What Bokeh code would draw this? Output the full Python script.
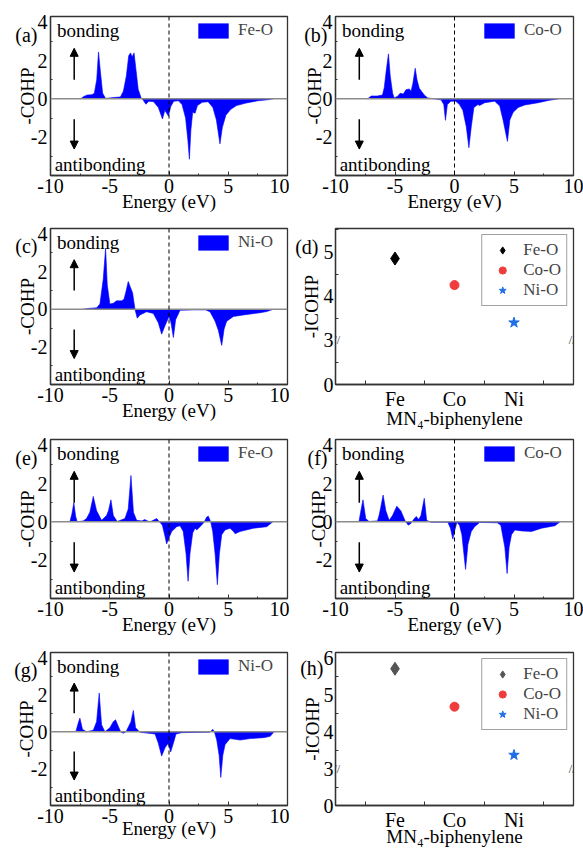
from bokeh.plotting import figure
from bokeh.layouts import column, row
from bokeh.models import (FixedTicker, CustomJSTickFormatter, Label, Arrow,
                          NormalHead, Span)
from bokeh.embed import file_html
from bokeh.resources import INLINE

FONT = "'Liberation Serif', 'Times New Roman', Times, serif"
BLUE = "#0000ff"
EDGE = "#333333"
NB = "\u00a0"

# ---------------- data ----------------
energy_a = [-7.45, -7.2, -6.9, -6.5, -6.3, -6.1, -5.95, -5.8, -5.6, -5.35, -5.0, -4.5, -4.1, -3.85,
            -3.6, -3.4, -3.25, -3.1, -2.95, -2.8, -2.6, -2.35, -2.2, -1.95, -1.7, -1.3, -0.9, -0.55,
            -0.35, -0.05, 0.15, 0.4, 0.8, 1.1, 1.4, 1.6, 1.72, 1.85, 2.0, 2.2, 2.4, 2.8, 3.3, 3.7,
            4.0, 4.3, 4.5, 4.8, 5.2, 5.7, 6.5, 7.5, 8.3, 8.8]
cohp_a = [0, 0.12, 0.2, 0.22, 0.3, 1.0, 2.45, 1.5, 0.3, 0.02, 0.05, 0.08, 0.1, 0.4,
          1.2, 2.25, 2.4, 2.2, 2.4, 1.6, 0.5, 0.05, -0.05, -0.28, -0.12, -0.15, -0.45, -1.05,
          -0.6, -0.9, -0.4, -0.12, -0.1, -0.3, -1.0, -2.2, -3.15, -1.6, -0.7, -0.75, -0.35, -0.18,
          -0.15, -0.45, -1.1, -2.35, -1.5, -0.85, -0.55, -0.35, -0.22, -0.1, -0.05, 0]

energy_b = [-7.3, -7.0, -6.5, -6.05, -5.9, -5.75, -5.55, -5.4, -5.2, -5.07, -4.8, -4.56, -4.3, -4.08,
            -3.8, -3.65, -3.5, -3.3, -3.15, -2.96, -2.54, -2.25, -1.7, -1.13, -0.9, -0.76, -0.6, -0.3,
            0.1, 0.42, 0.7, 0.99, 1.21, 1.41, 1.63, 1.97, 2.1, 2.54, 3.38, 3.8, 4.08, 4.45, 4.65,
            4.93, 5.35, 5.9, 7.04, 7.9, 8.75]
cohp_b = [0, 0.15, 0.15, 0.2, 0.6, 1.4, 2.35, 1.2, 0.3, 0.05, 0.13, 0.3, 0.25, 0.48,
          0.52, 0.4, 0.8, 1.6, 1.0, 0.55, 0.2, 0.05, 0, -0.05, -0.3, -1.12, -0.3, -0.12,
          -0.12, -0.3, -0.6, -1.45, -2.55, -1.45, -0.45, -0.3, -0.35, -0.2, -0.12, -0.37, -1.1, -2.22,
          -1.1, -0.7, -0.45, -0.32, -0.2, -0.08, 0]

energy_c = [-7.25, -6.8, -6.1, -5.83, -5.55, -5.35, -5.21, -4.99, -4.7, -4.42, -4.0, -3.8, -3.63,
            -3.44, -3.24, -3.07, -2.87, -2.68, -2.45, -1.89, -1.32, -0.9, -0.62, -0.34, 0.0, 0.17,
            0.37, 0.56, 0.93, 2.0, 3.1, 3.46, 3.89, 4.17, 4.45, 4.65, 4.87, 5.44, 6.28, 7.69, 8.25, 8.8]
cohp_c = [0, 0.05, 0.08, 0.28, 1.6, 3.25, 1.3, 0.28, 0.32, 0.45, 0.45, 0.53, 0.95,
          1.48, 1.15, 0.87, 0, -0.47, -0.3, -0.13, -0.22, -0.72, -1.32, -0.88, -0.38, -0.72,
          -1.5, -0.55, -0.05, -0.03, -0.03, -0.13, -0.63, -1.13, -1.92, -1.05, -0.63, -0.38, -0.3,
          -0.18, -0.12, 0]

energy_e = [-8.37, -8.2, -8.03, -7.88, -7.75, -7.24, -6.96, -6.68, -6.39, -6.11, -5.69, -5.27, -5.1,
            -4.9, -4.7, -4.37, -3.72, -3.44, -3.21, -3.0, -2.73, -2.3, -2.05, -1.8, -1.6, -1.04, -0.8,
            -0.56, -0.34, -0.2, 0.0, 0.23, 0.65, 0.93, 1.2, 1.44, 1.61, 1.77, 2.0, 2.2, 2.34, 2.62,
            2.96, 3.18, 3.32, 3.52, 3.69, 3.89, 4.08, 4.25, 4.45, 4.73, 5.15, 5.44, 5.58, 6.0, 7.13,
            8.25, 8.76]
cohp_e = [0, 0.4, 1.0, 0.3, 0, 0.05, 0.17, 0.5, 1.33, 0.58, 0.08, 0.33, 0.6,
          1.15, 0.33, 0.02, 0.17, 0.67, 2.42, 0.5, 0.08, 0.05, 0.12, 0.05, 0, 0.17, 0,
          -0.17, -0.75, -1.15, -0.83, -0.5, -0.25, -0.2, -0.5, -1.67, -3.1, -1.67, -0.58, -0.33,
          -0.42, -0.25, -0.02, 0.25, 0.3, 0, -0.5, -1.67, -3.28, -1.67, -0.67, -0.42, -0.33, -0.5,
          -0.62, -0.5, -0.33, -0.25, 0]

energy_f = [-8.03, -7.89, -7.69, -7.46, -7.18, -6.48, -6.34, -6.2, -6.0, -5.77, -5.49, -5.21, -4.85,
            -4.51, -4.17, -3.89, -3.66, -3.38, -3.21, -3.01, -2.82, -2.54, -2.34, -1.97, -0.56, -0.34,
            -0.14, 0.0, 0.2, 0.42, 0.62, 0.79, 0.93, 1.13, 1.41, 1.69, 2.11, 3.6, 3.89, 4.23, 4.42,
            4.59, 4.79, 5.07, 5.63, 6.48, 7.32, 8.45, 8.87]
cohp_f = [0, 0.5, 1.15, 0.17, 0.02, 0.05, 0.33, 0.75, 1.4, 0.58, 0.08, 0.33, 0.82,
          0.58, 0.08, -0.17, -0.08, 0.17, 0.28, 0.12, 0.33, 1.23, 0.08, -0.02, -0.02, -0.33,
          -0.9, -0.5, -0.02, -0.17, -0.67, -1.67, -2.48, -1.17, -0.5, -0.25, -0.03, -0.05, -0.17,
          -1.33, -2.7, -1.33, -0.67, -0.42, -0.47, -0.5, -0.33, -0.2, 0]

energy_g = [-7.86, -7.66, -7.52, -7.3, -6.96, -6.39, -6.11, -5.89, -5.69, -5.41, -4.99, -4.7, -4.51,
            -4.28, -4.08, -3.86, -3.63, -3.21, -3.01, -2.82, -2.45, -1.89, -1.18, -0.9, -0.62, -0.34,
            -0.06, 0.14, 0.37, 0.59, 1.07, 3.46, 3.69, 3.83, 4.03, 4.23, 4.37, 4.54, 4.73, 5.15,
            6.0, 6.85, 7.97, 8.54, 8.87]
cohp_g = [0, 0.47, 0.74, 0.13, 0, 0.08, 0.55, 2.1, 0.38, 0, 0.22, 0.55, 0.65,
          0.3, 0, -0.08, 0, 0.55, 1.16, 0.22, -0.03, -0.07, -0.12, -0.62, -1.32, -0.87,
          -0.62, -1.1, -0.62, -0.12, -0.05, -0.02, 0.13, 0, -0.45, -1.28, -2.48, -1.28, -0.7, -0.37,
          -0.45, -0.37, -0.32, -0.25, 0]

energy_ticks = [-10, -5, 0, 5, 10]
energy_minor = [-7.5, -2.5, 2.5, 7.5]
cohp_ticks = [-2, 0, 2, 4]
cohp_minor = [-3, -1, 1, 3]

metals = ["Fe", "Co", "Ni"]
metal_pos = [1, 2, 3]
bond_names = ["Fe-O", "Co-O", "Ni-O"]
icohp_d = [4.85, 4.25, 3.40]
icohp_h = [5.71, 4.68, 3.37]
icohp_ticks_d = [0, 3, 4, 5]
icohp_ticks_h = [0, 3, 4, 5, 6]
icohp_minor = [1.5, 3.5, 4.5, 5.5]

LEFT_W, RIGHT_W = 289, 294
# per row: figure height, top border, bottom border, x-axis label standoff
ROWS = [(220, 16, 45, -5), (211, 8, 44, -5), (213, 8, 46, -5), (205, 8, 42, -8)]


def brk(v):
    """broken y axis: 0..3 compressed into one unit, above 3 linear"""
    return v / 3.0 if v <= 3 else v - 2.0


def make_fig(left, r, **kw):
    h, bt, bb, xs = ROWS[r]
    p = figure(width=LEFT_W if left else RIGHT_W, height=h,
               output_backend="svg", toolbar_location=None,
               min_border_left=50 if left else 46,
               min_border_right=2 if left else 10,
               min_border_top=bt, min_border_bottom=bb, **kw)
    p.grid.visible = False
    p.outline_line_color = EDGE
    p.outline_line_width = 1.3
    p.background_fill_color = "white"
    p.border_fill_color = "white"
    for ax in p.axis:
        ax.major_label_text_font = FONT
        ax.major_label_text_font_size = "20px"
        ax.major_label_text_color = "black"
        ax.axis_label_text_font = FONT
        ax.axis_label_text_font_size = "19px"
        ax.axis_label_text_font_style = "normal"
        ax.axis_label_text_color = "black"
        ax.axis_line_color = EDGE
        ax.axis_line_width = 1.3
        ax.major_tick_in = 4
        ax.major_tick_out = 0
        ax.minor_tick_in = 2
        ax.minor_tick_out = 0
        ax.major_tick_line_color = EDGE
        ax.minor_tick_line_color = EDGE
    p.xaxis.major_label_standoff = 3
    p.xaxis.axis_label_standoff = xs
    p.yaxis.major_tick_in = 0
    return p


def cohp_panel(tag, energy, cohp, name, left, r):
    p = make_fig(left, r, x_range=(-10, 10), y_range=(-4.0, 4.3))
    p.varea(x=energy, y1=0, y2=cohp, fill_color=BLUE, legend_label=name)
    p.line(energy, cohp, line_color=BLUE, line_width=0.6)
    p.add_layout(Span(location=0, dimension="width", line_color="#8c8c8c", line_width=1.5))
    p.add_layout(Span(location=0, dimension="height", line_color="black",
                      line_dash="4 3", line_width=1))
    p.add_layout(Arrow(end=NormalHead(size=8, fill_color="black", line_color="black"),
                       x_start=-8, y_start=1.0, x_end=-8, y_end=2.64,
                       line_width=1.5, line_color="black"))
    p.add_layout(Arrow(end=NormalHead(size=8, fill_color="black", line_color="black"),
                       x_start=-8, y_start=-1.07, x_end=-8, y_end=-2.62,
                       line_width=1.5, line_color="black"))
    p.add_layout(Label(x=-9.45, y=3.56, text="bonding", text_baseline="middle",
                       text_font=FONT, text_font_size="19px", text_color="black"))
    p.add_layout(Label(x=-9.65, y=-3.45, text="antibonding", text_baseline="middle",
                       text_font=FONT, text_font_size="19px", text_color="black"))
    p.xaxis.axis_label = "Energy (eV)"
    p.yaxis.axis_label = "-COHP"
    tag_pos = 3.35
    tag_text = tag + NB * (2 if left else 1)
    p.xaxis.ticker = FixedTicker(ticks=energy_ticks, minor_ticks=energy_minor)
    p.yaxis.ticker = FixedTicker(ticks=cohp_ticks + [tag_pos], minor_ticks=cohp_minor)
    p.xaxis.formatter = CustomJSTickFormatter(code="return tick.toFixed(0);")
    p.yaxis.formatter = CustomJSTickFormatter(
        args=dict(tag=tag_text, pos=tag_pos),
        code="if (Math.abs(tick - pos) < 1e-6) { return tag; } return tick.toFixed(0);")
    p.yaxis.major_label_standoff = 3
    p.yaxis.axis_label_standoff = -26 if left else -24
    lg = p.legend[0]
    lg.location = "top_right"
    lg.border_line_color = None
    lg.background_fill_alpha = 0
    lg.label_text_font = FONT
    lg.label_text_font_size = "17px"
    lg.glyph_width = 38
    lg.glyph_height = 19
    lg.label_standoff = 6
    lg.label_width = 45
    lg.margin = 4
    lg.padding = 3
    lg.spacing = 0
    return p


def icohp_panel(tag, vals, fe_color, ymax, yticks, tag_pos, n_space, label_standoff, r):
    p = make_fig(False, r, x_range=(0, 4), y_range=(0, brk(ymax)))
    markers = ["diamond", "circle", "star"]
    colors = [fe_color, "#f03c3c", "#1f6fe6"]
    sizes = [13, 9, 11]
    for i in range(len(vals)):
        p.scatter(x=[metal_pos[i]], y=[brk(vals[i])], marker=markers[i], size=sizes[i],
                  fill_color=colors[i], line_color=colors[i], legend_label=bond_names[i])
    p.xaxis.axis_label = "MN\u2084-biphenylene"
    p.yaxis.axis_label = "-ICOHP"
    p.xaxis.ticker = FixedTicker(ticks=metal_pos, minor_ticks=[0.5, 1.5, 2.5, 3.5])
    p.xaxis.major_tick_in = 0
    p.xaxis.minor_tick_in = 4
    p.xaxis.formatter = CustomJSTickFormatter(args=dict(names=metals),
                                              code="return names[Math.round(tick) - 1];")
    p.yaxis.ticker = FixedTicker(ticks=[brk(t) for t in yticks] + [tag_pos],
                                 minor_ticks=[brk(t) for t in icohp_minor if t < ymax])
    p.yaxis.minor_tick_in = 3
    p.yaxis.formatter = CustomJSTickFormatter(
        args=dict(tag=tag + NB * n_space, pos=tag_pos),
        code=("if (Math.abs(tick - pos) < 1e-6) { return tag; } "
              "return (tick <= 1.0001 ? tick * 3 : tick + 2).toFixed(0);"))
    p.yaxis.major_label_standoff = 2
    p.yaxis.axis_label_standoff = label_standoff
    p.add_layout(Label(x=0, y=brk(3), text="//", text_align="left", x_offset=-2,
                       text_baseline="middle", text_font=FONT, text_font_size="12px",
                       text_color=EDGE))
    p.add_layout(Label(x=4, y=brk(3), text="//", text_align="right", x_offset=2,
                       text_baseline="middle", text_font=FONT, text_font_size="12px",
                       text_color=EDGE))
    lg = p.legend[0]
    lg.location = "top_right"
    lg.border_line_color = "#444444"
    lg.border_line_width = 1.5
    lg.background_fill_color = "white"
    lg.label_text_font = FONT
    lg.label_text_font_size = "17px"
    lg.glyph_width = 30
    lg.glyph_height = 18
    lg.label_standoff = 6
    lg.margin = 6
    lg.padding = 5
    lg.spacing = 0
    return p


pa = cohp_panel("(a)", energy_a, cohp_a, "Fe-O", True, 0)
pb = cohp_panel("(b)", energy_b, cohp_b, "Co-O", False, 0)
pc = cohp_panel("(c)", energy_c, cohp_c, "Ni-O", True, 1)
pd = icohp_panel("(d)", icohp_d, "black", 5.53, icohp_ticks_d, 3.11, 3, -30, 1)
pe = cohp_panel("(e)", energy_e, cohp_e, "Fe-O", True, 2)
pf = cohp_panel("(f)", energy_f, cohp_f, "Co-O", False, 2)
pg = cohp_panel("(g)", energy_g, cohp_g, "Ni-O", True, 3)
ph = icohp_panel("(h)", icohp_h, "#555555", 6.15, icohp_ticks_h, 3.73, 2, -26, 3)

layout = column(row(pa, pb), row(pc, pd), row(pe, pf), row(pg, ph))

open("out.html", "w").write(file_html(layout, INLINE))
